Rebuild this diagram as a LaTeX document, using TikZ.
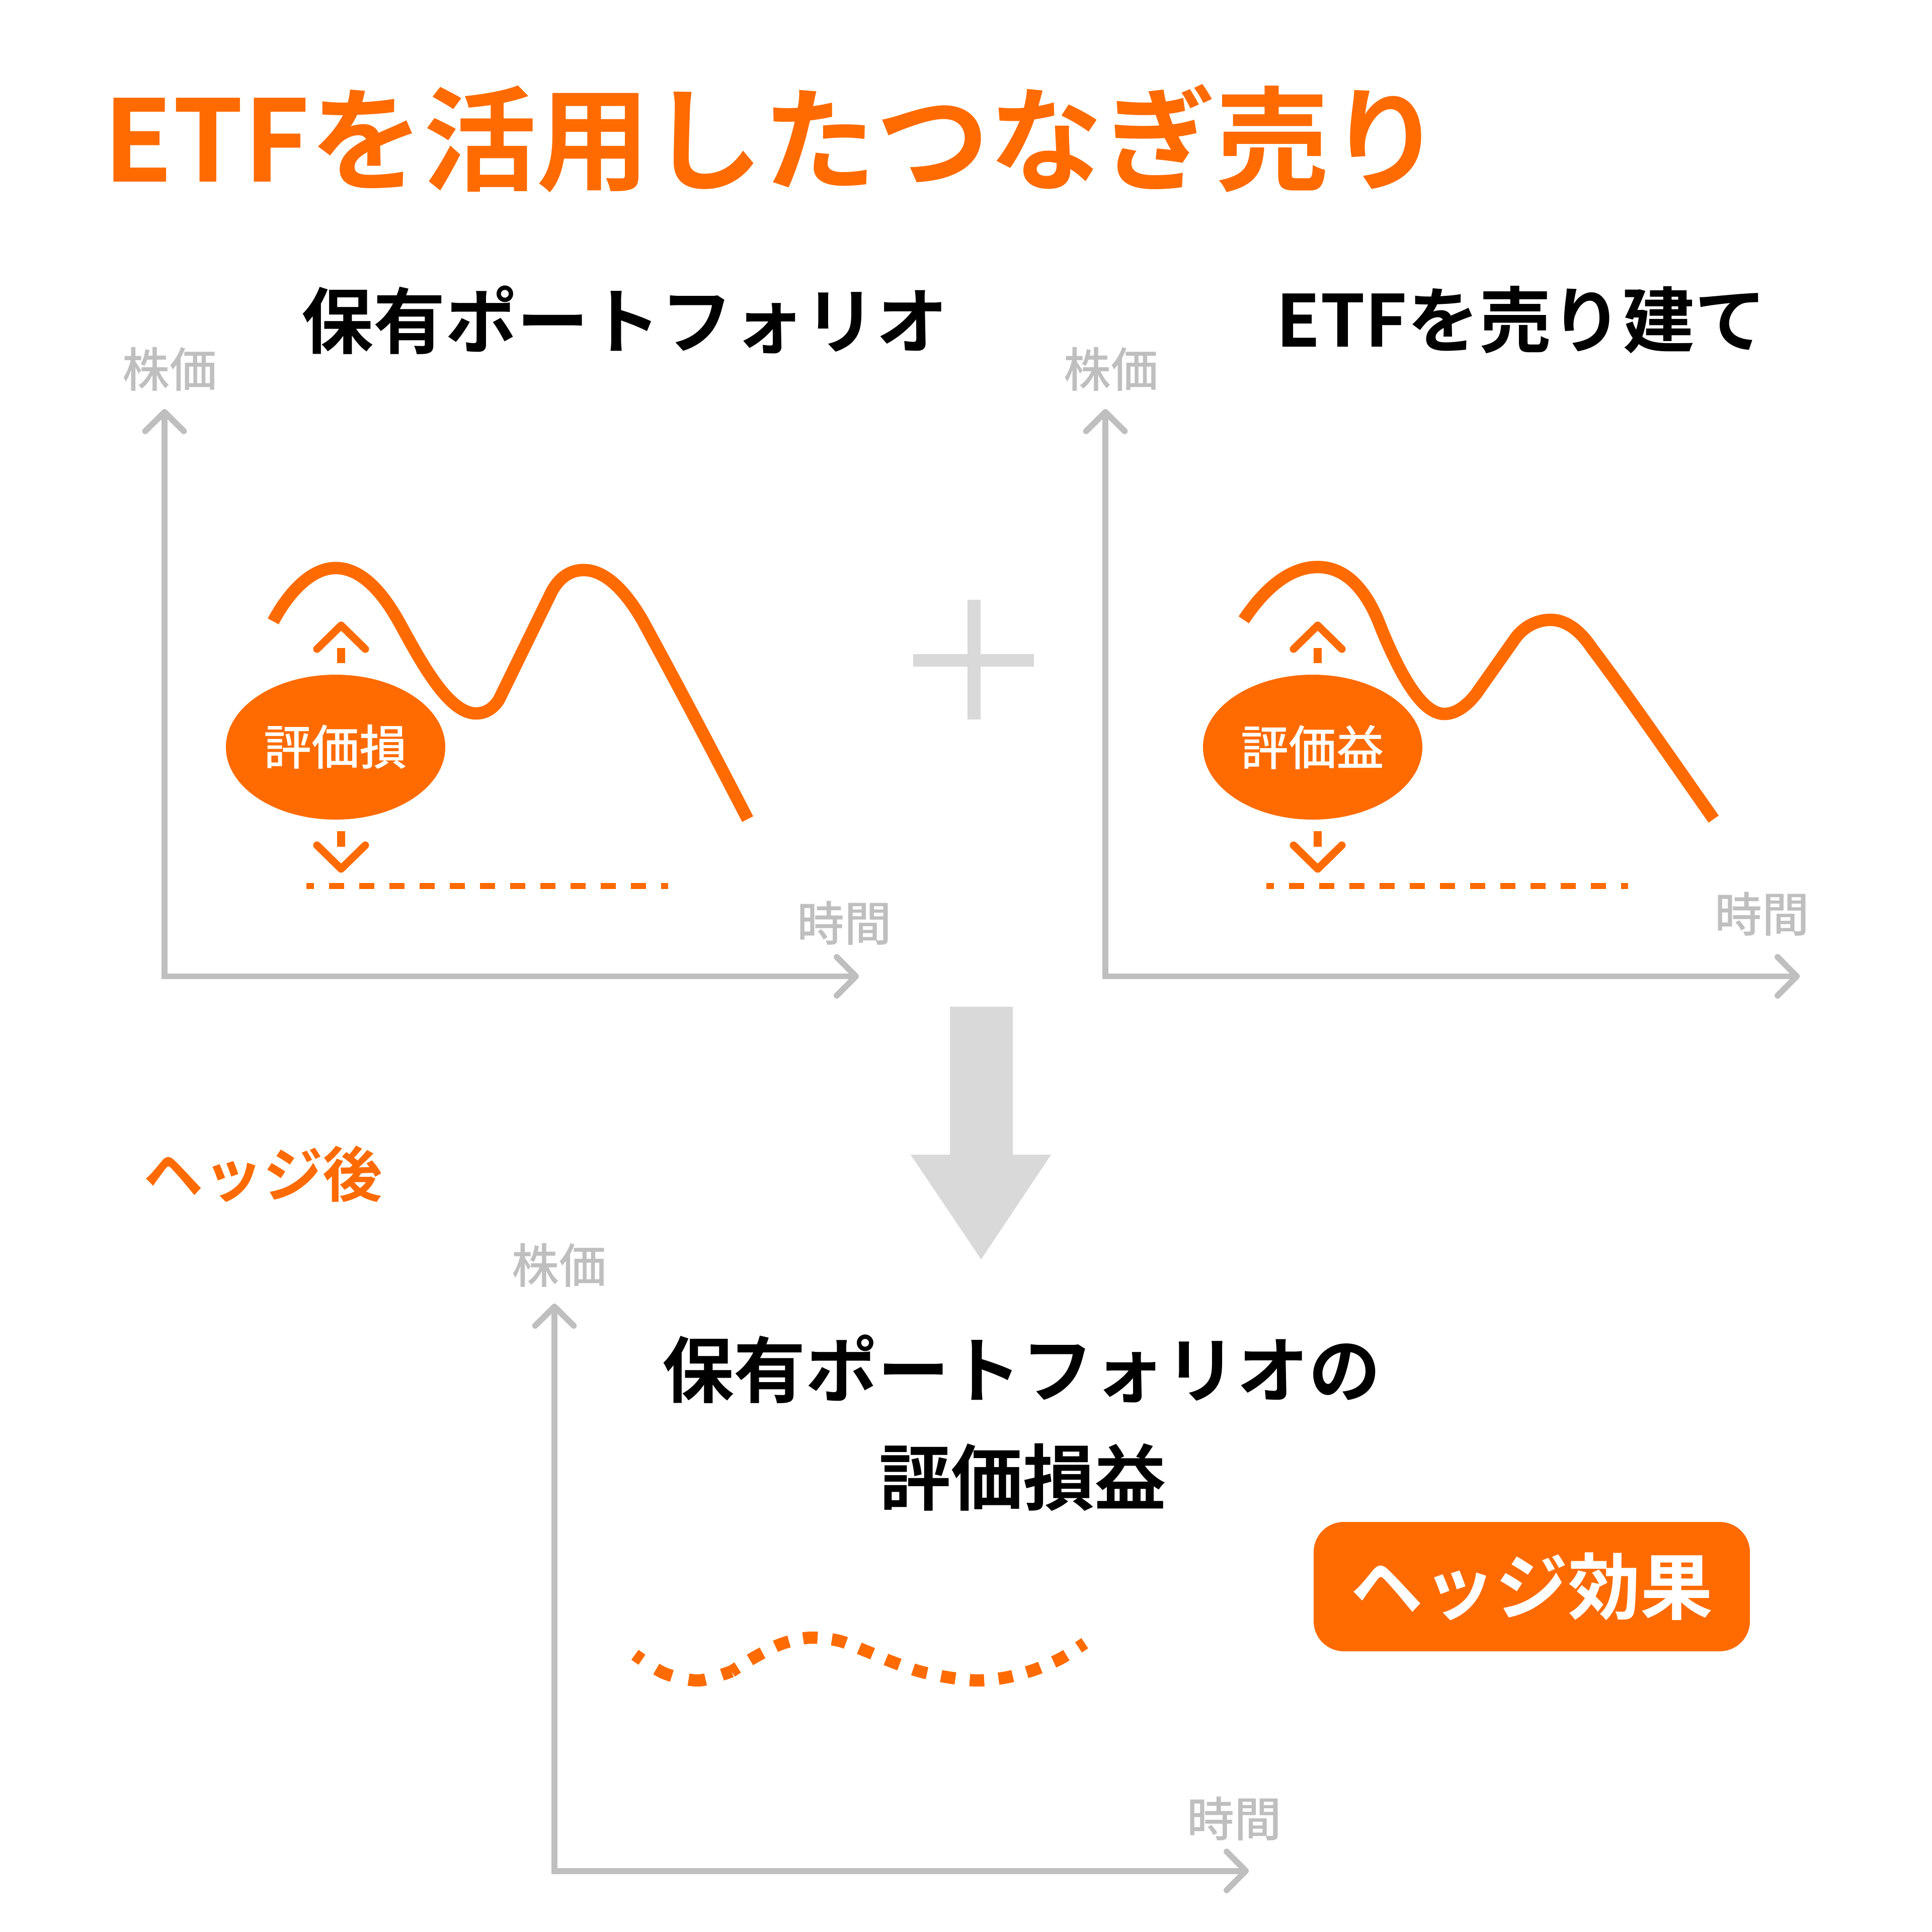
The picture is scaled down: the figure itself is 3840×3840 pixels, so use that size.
\documentclass[tikz,border=0pt]{standalone}
\usepackage{fontspec}
\usetikzlibrary{arrows.meta,shapes.geometric}
\setmainfont{Noto Sans CJK JP Medium}
\newfontfamily\jpb{Noto Sans CJK JP Bold}
\definecolor{org}{HTML}{FF6B00}
\definecolor{axg}{HTML}{BFBFBF}
\definecolor{bgg}{HTML}{D9D9D9}
\newcommand{\fs}[1]{\fontsize{#1}{#1}\selectfont}
\tikzset{
 x=0.01cm,y=-0.01cm,
 barb/.tip={Straight Barb[round,length=10.8pt,width=21.8pt,line width=3.4pt]},
 axisline/.style={draw=axg,line width=3.4pt,line join=miter,barb-barb},
 curveline/.style={draw=org,line width=7pt,line cap=butt},
 dashline/.style={draw=org,line width=3.4pt,dash pattern=on 8.535pt off 8.535pt,dash phase=4.27pt},
 dashleft/.style={draw=org,line width=6.9pt,dash pattern=on 9.67pt off 9.67pt,dash phase=4.84pt},
 dashright/.style={draw=org,line width=6.9pt,dash pattern=on 8.165pt off 8.165pt,dash phase=4.08pt},
 wing/.style={draw=org,line width=4.3pt,line cap=round,line join=round},
 tail/.style={draw=org,line width=4.4pt},
 axlabel/.style={text=axg,font=\fs{26.7},anchor=base,inner sep=0pt},
 head/.style={text=black,font=\jpb\fs{40.6},anchor=base,inner sep=0pt},
 oval/.style={ellipse,fill=org,text=white,font=\fs{27},inner sep=0pt,minimum width=436*0.01cm,minimum height=288*0.01cm},
}
\begin{document}
\begin{tikzpicture}
\useasboundingbox[fill=white] (0,0) rectangle (3840,3840);
% title
\node[text=org,font=\jpb\fs{64},anchor=base,inner sep=0pt] (title) at (1536,362) {ETFを活用したつなぎ売り};
\node[head] (h1) at (1242,692) {保有ポートフォリオ};
\node[head] (h2) at (3024,690) {ETFを売り建て};
% axes 1
\coordinate (o1) at (327,1940.5); \coordinate (t1) at (327,813); \coordinate (r1) at (1707,1940.5);
\draw[axisline] (t1) -- (o1) -- (r1);
\node[axlabel] (y1) at (337,770) {株価};
\node[axlabel] (x1) at (1678,1870) {時間};
% axes 2
\coordinate (o2) at (2197,1940.5); \coordinate (t2) at (2197,813); \coordinate (r2) at (3577,1940.5);
\draw[axisline] (t2) -- (o2) -- (r2);
\node[axlabel] (y2) at (2208,770) {株価};
\node[axlabel] (x2) at (3502,1852) {時間};
% axes 3
\coordinate (o3) at (1102,3718.5); \coordinate (t3) at (1102,2591); \coordinate (r3) at (2482,3718.5);
\draw[axisline] (t3) -- (o3) -- (r3);
\node[axlabel] (y3) at (1111,2550) {株価};
\node[axlabel] (x3) at (2453,3650) {時間};
% curve 1
\draw[curveline] (543,1235) .. controls (575,1175) and (620,1129) .. (667,1129)
 .. controls (720,1129) and (763,1180) .. (798,1245)
 .. controls (840,1322) and (893,1418) .. (946,1418)
 .. controls (965,1418) and (981,1408) .. (992,1390)
 -- (1097,1175)
 .. controls (1112,1148) and (1133,1133) .. (1160,1133)
 .. controls (1205,1133) and (1245,1178) .. (1277,1233)
 .. controls (1350,1367) and (1420,1500) .. (1486,1628);
% curve 2
\draw[curveline] (2472,1232) .. controls (2510,1175) and (2560,1127) .. (2619,1127)
 .. controls (2680,1127) and (2720,1180) .. (2746,1251)
 .. controls (2792,1362) and (2832,1419) .. (2871,1419)
 .. controls (2895,1419) and (2918,1400) .. (2934,1379)
 -- (3013,1267)
 .. controls (3030,1245) and (3055,1232) .. (3082,1232)
 .. controls (3115,1232) and (3143,1257) .. (3163,1287)
 .. controls (3245,1396) and (3330,1520) .. (3406,1628);
% ovals
\node[oval] (v1) at (667,1485) {\raisebox{0.6pt}{評価損}};
\node[oval] (v2) at (2609,1485) {\raisebox{0.6pt}{評価益}};
% small arrows 1
\coordinate (a1t) at (678,1243); \coordinate (a1l) at (630,1290); \coordinate (a1r) at (726,1290);
\draw[wing] (a1l) -- (a1t) -- (a1r);
\coordinate (a1a) at (678,1287.5); \coordinate (a1b) at (678,1318);
\draw[tail] (a1a) -- (a1b);
\coordinate (b1t) at (678,1727); \coordinate (b1l) at (630,1680); \coordinate (b1r) at (726,1680);
\draw[wing] (b1l) -- (b1t) -- (b1r);
\coordinate (b1a) at (678,1652); \coordinate (b1b) at (678,1682.5);
\draw[tail] (b1a) -- (b1b);
% small arrows 2
\coordinate (a2t) at (2619,1243); \coordinate (a2l) at (2571,1290); \coordinate (a2r) at (2667,1290);
\draw[wing] (a2l) -- (a2t) -- (a2r);
\coordinate (a2a) at (2619,1287.5); \coordinate (a2b) at (2619,1318);
\draw[tail] (a2a) -- (a2b);
\coordinate (b2t) at (2619,1727); \coordinate (b2l) at (2571,1680); \coordinate (b2r) at (2667,1680);
\draw[wing] (b2l) -- (b2t) -- (b2r);
\coordinate (b2a) at (2619,1652); \coordinate (b2b) at (2619,1682.5);
\draw[tail] (b2a) -- (b2b);
% dashed lines
\coordinate (d1a) at (609,1761); \coordinate (d1b) at (1328,1761);
\draw[dashline] (d1a) -- (d1b);
\coordinate (d2a) at (2517,1761); \coordinate (d2b) at (3236,1761);
\draw[dashline] (d2a) -- (d2b);
% plus
\fill[bgg] (1815,1300) rectangle (2055,1325);
\fill[bgg] (1923,1192) rectangle (1949,1430);
% big arrow
\fill[bgg] (1888,2001) -- (2013,2001) -- (2013,2295) -- (2089,2295) -- (1950,2503) -- (1810,2295) -- (1888,2295) -- cycle;
% after
\node[text=org,font=\jpb\fs{33.7},anchor=base,inner sep=0pt] (after) at (523,2378) {ヘッジ後};
\node[head] (h3) at (2030,2776) {保有ポートフォリオの};
\node[head] (h4) at (2033,2990) {評価損益};
% badge
\node[fill=org,text=white,rounded corners=17pt,font=\jpb\fs{41},inner sep=0pt,minimum width=867*0.01cm,minimum height=257*0.01cm] (badge) at (3044.5,3153.5) {ヘッジ効果};
% dashed curve
\draw[dashleft] plot[smooth] coordinates {(1262,3289) (1321,3326) (1389,3340) (1454,3322)};
\draw[dashright] plot[smooth] coordinates {(1454,3322) (1503,3292) (1554,3267) (1609,3255) (1667,3261) (1720,3281) (1773,3303) (1828,3322) (1886,3334) (1943,3340) (2000,3334) (2055,3319) (2107,3297) (2156,3266)};
\end{tikzpicture}
\end{document}
